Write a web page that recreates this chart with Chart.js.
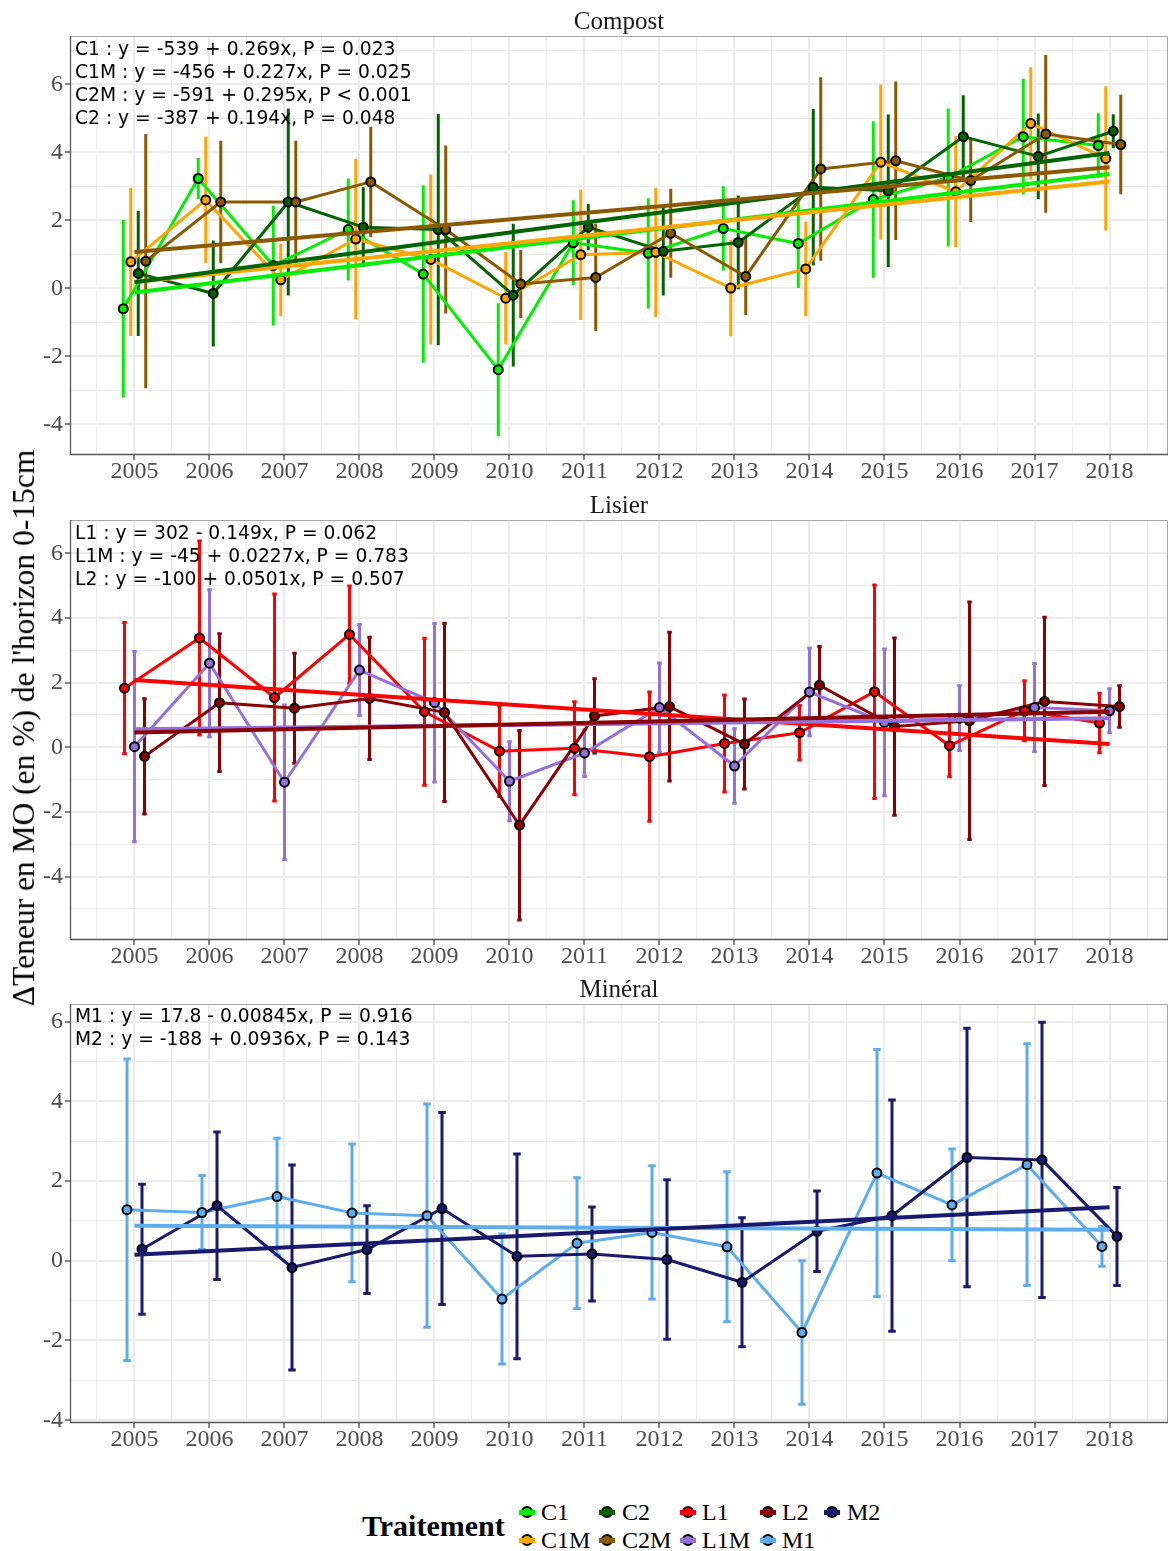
<!DOCTYPE html>
<html>
<head>
<meta charset="utf-8">
<script src="https://cdn.jsdelivr.net/npm/chart.js@4.4.1/dist/chart.umd.min.js"></script>
<style>
html,body{margin:0;padding:0;background:#fff;}
body{position:relative;width:1169px;height:1551px;overflow:hidden;}
canvas{position:absolute;left:0;}
.ptitle{position:absolute;left:70px;width:1098px;height:30px;line-height:30px;text-align:center;font-family:"Liberation Serif","Times New Roman",serif;font-size:25px;color:#1a1a1a;}
.eq{position:absolute;left:75px;font-family:"DejaVu Sans",Verdana,sans-serif;font-size:18.7px;line-height:23px;color:#000;white-space:pre;}
.ytitle{position:absolute;left:24px;top:728px;transform:translate(-50%,-50%) rotate(-90deg);white-space:nowrap;font-family:"Liberation Serif","Times New Roman",serif;font-size:31.5px;line-height:36px;color:#000;}
.legtitle{position:absolute;left:362px;top:1508px;height:36px;line-height:36px;font-family:"Liberation Serif","Times New Roman",serif;font-weight:bold;font-size:30px;color:#000;}
.key{position:absolute;width:16px;height:14px;}
.key .dot{position:absolute;left:2px;top:1px;width:8px;height:8px;border:2px solid #000;border-radius:50%;}
.key .bar{position:absolute;left:0;top:4.5px;width:16px;height:5px;}
.lab{position:absolute;height:28px;line-height:28px;font-family:"Liberation Serif","Times New Roman",serif;font-size:24px;color:#000;}
</style>
</head>
<body>
<canvas id="cv1" width="1169" height="495" style="top:0px"></canvas>
<canvas id="cv2" width="1169" height="496" style="top:484px"></canvas>
<canvas id="cv3" width="1169" height="495" style="top:968px"></canvas>

<div class="ptitle" style="top:6px">Compost</div>
<div class="ptitle" style="top:490px">Lisier</div>
<div class="ptitle" style="top:974px">Minéral</div>

<div class="eq" style="top:36.5px">C1 : y = -539 + 0.269x, P = 0.023
C1M : y = -456 + 0.227x, P = 0.025
C2M : y = -591 + 0.295x, P &lt; 0.001
C2 : y = -387 + 0.194x, P = 0.048</div>
<div class="eq" style="top:520.5px">L1 : y = 302 - 0.149x, P = 0.062
L1M : y = -45 + 0.0227x, P = 0.783
L2 : y = -100 + 0.0501x, P = 0.507</div>
<div class="eq" style="top:1004px">M1 : y = 17.8 - 0.00845x, P = 0.916
M2 : y = -188 + 0.0936x, P = 0.143</div>

<div class="ytitle">ΔTeneur en MO (en %) de l'horizon 0-15cm</div>

<div class="legtitle">Traitement</div>
<div id="legend"></div>

<script>
// ---------------- DATA ----------------
const years = [2005, 2006, 2007, 2008, 2009, 2010, 2011, 2012, 2013, 2014, 2015, 2016, 2017, 2018];
const xTickLabels = years;
const yTickLabels = [-4, -2, 0, 2, 4, 6];

// Compost
const c1Mean  = [-0.60, 3.23, 0.67, 1.73, 0.42, -2.39, 1.34, 1.03, 1.76, 1.32, 2.61, 3.26, 4.46, 4.20];
const c1Err   = [2.61, 0.60, 1.76, 1.50, 2.61, 1.95, 1.25, 1.62, 1.24, 1.31, 2.30, 2.03, 1.70, 0.95];
const c1Fit   = [-0.12, 3.36];
const c1mMean = [0.78, 2.60, 0.25, 1.45, 0.85, -0.29, 0.99, 1.06, 0.01, 0.57, 3.71, 2.84, 4.85, 3.82];
const c1mErr  = [2.18, 1.86, 1.07, 2.36, 2.50, 1.36, 1.92, 1.90, 1.42, 1.39, 2.28, 1.63, 1.65, 2.12];
const c1mFit  = [0.19, 3.14];
const c2Mean  = [0.44, -0.15, 2.54, 1.80, 1.73, -0.20, 1.80, 1.09, 1.35, 2.97, 2.87, 4.46, 3.88, 4.62];
const c2Err   = [1.84, 1.56, 2.75, 1.17, 3.40, 2.10, 0.68, 1.30, 1.38, 2.30, 2.24, 1.22, 1.26, 0.50];
const c2Fit   = [0.18, 3.98];
const c2mMean = [0.80, 2.54, 2.54, 3.13, 1.73, 0.13, 0.32, 1.62, 0.35, 3.51, 3.75, 3.17, 4.54, 4.23];
const c2mErr  = [3.74, 1.80, 1.80, 1.62, 2.47, 1.00, 1.58, 1.31, 1.13, 2.70, 2.33, 1.22, 2.32, 1.46];
const c2mFit  = [1.07, 3.56];

// Lisier
const l1Mean  = [1.83, 3.38, 1.54, 3.49, 1.10, -0.12, -0.03, -0.29, 0.12, 0.45, 1.72, 0.05, 1.13, 0.75];
const l1Err   = [2.03, 3.00, 3.20, 1.50, 2.27, 1.40, 1.44, 2.00, 1.50, 0.84, 3.30, 0.96, 0.93, 0.92];
const l1Fit   = [2.08, 0.10];
const l1mMean = [0.02, 2.60, -1.08, 2.39, 1.38, -1.05, -0.18, 1.23, -0.58, 1.71, 0.77, 0.90, 1.23, 1.13];
const l1mErr  = [2.94, 2.27, 2.39, 1.41, 2.45, 1.22, 0.72, 1.38, 1.15, 1.35, 2.27, 1.00, 1.36, 0.68];
const l1mFit  = [0.56, 0.90];
const l2Mean  = [-0.28, 1.38, 1.21, 1.51, 1.08, -2.41, 0.97, 1.26, 0.10, 1.92, 0.64, 0.82, 1.42, 1.26];
const l2Err   = [1.78, 2.13, 1.70, 1.89, 2.76, 2.93, 1.15, 2.30, 1.39, 1.20, 2.74, 3.67, 2.60, 0.64];
const l2Fit   = [0.46, 1.10];

// Minéral
const m1Mean  = [1.28, 1.21, 1.61, 1.20, 1.13, -0.96, 0.44, 0.71, 0.35, -1.80, 2.20, 1.40, 2.41, 0.36];
const m1Err   = [3.78, 0.93, 1.46, 1.73, 2.80, 1.63, 1.64, 1.67, 1.88, 1.80, 3.10, 1.40, 3.03, 0.50];
const m1Fit   = [0.88, 0.78];
const m2Mean  = [0.29, 1.38, -0.17, 0.28, 1.31, 0.11, 0.17, 0.03, -0.54, 0.74, 1.13, 2.59, 2.53, 0.61];
const m2Err   = [1.63, 1.85, 2.57, 1.10, 2.41, 2.57, 1.18, 2.00, 1.62, 1.01, 2.90, 3.24, 3.45, 1.23];
const m2Fit   = [0.15, 1.34];

// ---------------- STYLES ----------------
const colors = {
  C1: '#00ee00', C1M: '#ffa500', C2: '#006400', C2M: '#8b5a00',
  L1: '#ff0000', L1M: '#9370db', L2: '#8b0000',
  M1: '#5cacee', M2: '#191970'
};
const X_MIN = 2004.14, X_MAX = 2018.78;
const DODGE = 0.4;

function errorSegments(xs, mean, err, cap) {
  const pts = [];
  xs.forEach((x, i) => {
    const lo = mean[i] - err[i], hi = mean[i] + err[i];
    pts.push({x: x, y: lo}, {x: x, y: hi}, {x: x, y: null});
    if (cap > 0) {
      pts.push({x: x - cap, y: hi}, {x: x + cap, y: hi}, {x: x, y: null});
      pts.push({x: x - cap, y: lo}, {x: x + cap, y: lo}, {x: x, y: null});
    }
  });
  return pts;
}

function buildDatasets(series, cap) {
  const n = series.length;
  const ds = [];
  series.forEach((s, k) => {
    const off = n > 1 ? -DODGE / 2 + DODGE / n * (k + 0.5) : 0;
    const xs = years.map(y => y + off);
    const pts = xs.map((x, i) => ({x: x, y: s.mean[i]}));
    const col = colors[s.name];
    ds.push({label: s.name + ' err', data: errorSegments(xs, s.mean, s.err, cap), borderColor: col,
      borderWidth: 3, pointRadius: 0, spanGaps: false, borderCapStyle: 'butt', order: 400 - k});
    ds.push({label: s.name, data: pts, borderColor: col, borderWidth: 3, pointRadius: 0,
      borderCapStyle: 'butt', borderJoinStyle: 'round', order: 300 - k});
    ds.push({label: s.name + ' pts', data: pts, showLine: false, pointRadius: 4.5, pointBorderWidth: 2,
      pointBackgroundColor: col, pointBorderColor: '#000', borderColor: col, order: 200 - k});
    ds.push({label: s.name + ' fit', data: [{x: years[0], y: s.fit[0]}, {x: years[years.length - 1], y: s.fit[1]}],
      borderColor: col, borderWidth: 4, pointRadius: 0, borderCapStyle: 'butt', order: 100 - k});
  });
  return ds;
}

const panelBorder = {
  id: 'panelBorder',
  afterDatasetsDraw(chart) {
    const a = chart.chartArea, ctx = chart.ctx;
    ctx.save();
    ctx.lineWidth = 1;
    ctx.strokeStyle = '#a6a6a6';
    ctx.beginPath();
    ctx.moveTo(a.left, a.top + 0.5); ctx.lineTo(a.right - 0.5, a.top + 0.5); ctx.lineTo(a.right - 0.5, a.bottom);
    ctx.stroke();
    ctx.strokeStyle = '#555555';
    ctx.lineWidth = 1.3;
    ctx.beginPath();
    ctx.moveTo(a.left + 0.5, a.top); ctx.lineTo(a.left + 0.5, a.bottom - 0.5); ctx.lineTo(a.right, a.bottom - 0.5);
    ctx.stroke();
    ctx.restore();
  }
};

const xGridVals = [years[0] - 0.5].concat(...years.map(y => [y, y + 0.5]));

function makePanel(id, series, yMin, yMax, cap) {
  const yGridVals = [];
  for (let v = Math.ceil(yMin); v <= Math.floor(yMax); v++) yGridVals.push(v);
  const isMajX = c => c.tick && Number.isInteger(c.tick.value) && xTickLabels.includes(c.tick.value);
  const isMajY = c => c.tick && yTickLabels.includes(c.tick.value);
  new Chart(document.getElementById(id), {
    type: 'line',
    data: {datasets: buildDatasets(series, cap)},
    plugins: [panelBorder],
    options: {
      responsive: false, animation: false, devicePixelRatio: 1, events: [],
      layout: {autoPadding: false, padding: {top: 36, left: 0, right: 1, bottom: 0}},
      plugins: {legend: {display: false}, tooltip: {enabled: false}, title: {display: false}},
      elements: {line: {tension: 0, fill: false}},
      scales: {
        x: {
          type: 'linear', min: X_MIN, max: X_MAX,
          afterBuildTicks: s => { s.ticks = xGridVals.map(v => ({value: v})); },
          afterFit: s => { s.height = 40; },
          border: {display: false},
          grid: {
            color: '#ebebeb',
            lineWidth: c => isMajX(c) ? 2 : 1,
            tickLength: 5,
            tickColor: c => isMajX(c) ? '#333333' : 'rgba(0,0,0,0)',
            tickWidth: 1.2
          },
          ticks: {
            autoSkip: false, maxRotation: 0, minRotation: 0, padding: 0,
            color: '#4d4d4d', font: {family: 'Liberation Serif', size: 24, lineHeight: 1},
            callback: v => xTickLabels.includes(v) ? String(v) : ''
          }
        },
        y: {
          type: 'linear', min: yMin, max: yMax,
          afterBuildTicks: s => { s.ticks = yGridVals.map(v => ({value: v})); },
          afterFit: s => { s.width = 70; },
          border: {display: false},
          grid: {
            color: '#ebebeb',
            lineWidth: c => isMajY(c) ? 2 : 1,
            tickLength: 5,
            tickColor: c => isMajY(c) ? '#333333' : 'rgba(0,0,0,0)',
            tickWidth: 1.2
          },
          ticks: {
            autoSkip: false, padding: 2,
            color: '#4d4d4d', font: {family: 'Liberation Serif', size: 24, lineHeight: 1},
            callback: v => yTickLabels.includes(v) ? String(v) : ''
          }
        }
      }
    }
  });
}

makePanel('cv1', [
  {name: 'C1', mean: c1Mean, err: c1Err, fit: c1Fit},
  {name: 'C1M', mean: c1mMean, err: c1mErr, fit: c1mFit},
  {name: 'C2', mean: c2Mean, err: c2Err, fit: c2Fit},
  {name: 'C2M', mean: c2mMean, err: c2mErr, fit: c2mFit}
], -4.90, 7.42, 0);

makePanel('cv2', [
  {name: 'L1', mean: l1Mean, err: l1Err, fit: l1Fit},
  {name: 'L1M', mean: l1mMean, err: l1mErr, fit: l1mFit},
  {name: 'L2', mean: l2Mean, err: l2Err, fit: l2Fit}
], -5.96, 7.03, 0.03);

makePanel('cv3', [
  {name: 'M1', mean: m1Mean, err: m1Err, fit: m1Fit},
  {name: 'M2', mean: m2Mean, err: m2Err, fit: m2Fit}
], -4.07, 6.44, 0.05);

// ---------------- LEGEND ----------------
const legendRows = [['C1', 'C2', 'L1', 'L2', 'M2'], ['C1M', 'C2M', 'L1M', 'M1']];
const keyX = [527, 607, 688, 768, 832];
const labX = [541, 622, 702, 782, 847];
const rowY = [1512, 1540];
const leg = document.getElementById('legend');
legendRows.forEach((row, r) => {
  row.forEach((name, c) => {
    const k = document.createElement('div');
    k.className = 'key';
    k.style.left = (keyX[c] - 8) + 'px';
    k.style.top = (rowY[r] - 7) + 'px';
    k.innerHTML = '<div class="dot" style="background:' + colors[name] + '"></div><div class="bar" style="background:' + colors[name] + '"></div>';
    leg.appendChild(k);
    const t = document.createElement('div');
    t.className = 'lab';
    t.style.left = labX[c] + 'px';
    t.style.top = (rowY[r] - 14) + 'px';
    t.textContent = name;
    leg.appendChild(t);
  });
});
</script>
</body>
</html>
